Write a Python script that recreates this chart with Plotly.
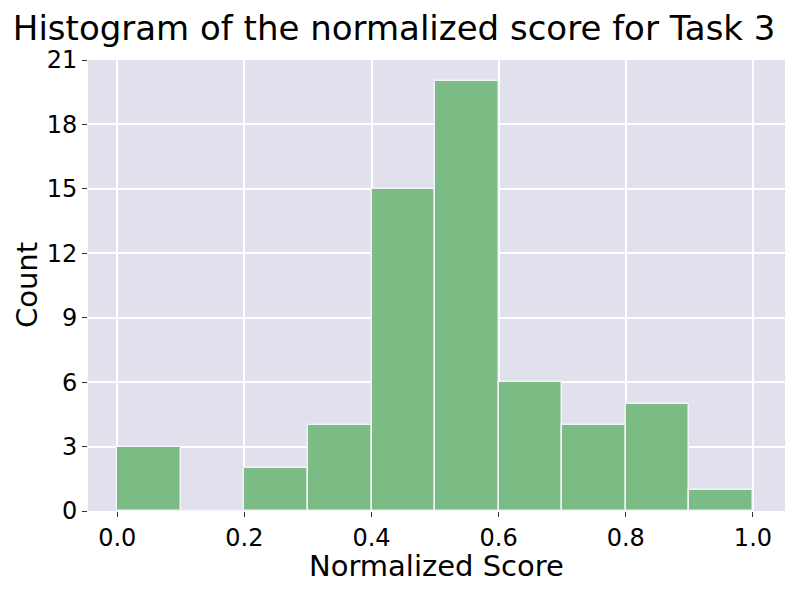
import plotly.graph_objects as go

bin_left = [0.0, 0.1, 0.2, 0.3, 0.4, 0.5, 0.6, 0.7, 0.8, 0.9]
counts = [3, 0, 2, 4, 15, 20, 6, 4, 5, 1]
bin_width = 0.1
x_ticks = [0.0, 0.2, 0.4, 0.6, 0.8, 1.0]
y_ticks = [0, 3, 6, 9, 12, 15, 18, 21]

centers = [b + bin_width / 2 for b in bin_left]

fig = go.Figure(go.Bar(
    x=centers, y=counts, width=[bin_width] * len(counts),
    marker=dict(color="#7BBC84", line=dict(color="#F2F2F8", width=1.5)),
))

fig.update_layout(
    width=793, height=594,
    margin=dict(l=80, r=15, t=52, b=91),
    paper_bgcolor="white",
    plot_bgcolor="#E1E1ED",
    font=dict(family="DejaVu Sans", color="black", size=24),
    title=dict(text="Histogram of the normalized score for Task 3", x=0.487, xanchor="center",
               y=0.967, yanchor="middle", font=dict(size=34)),
    showlegend=False,
    bargap=0,
    annotations=[
        dict(text="Normalized Score", xref="x domain", yref="y domain", x=0.499, y=-0.122,
             xanchor="center", yanchor="middle", showarrow=False, font=dict(size=29)),
        dict(text="Count", xref="x domain", yref="y domain", x=-0.088, y=0.5, textangle=-90,
             xanchor="center", yanchor="middle", showarrow=False, borderpad=0, font=dict(size=29)),
    ],
)
fig.update_xaxes(range=[-0.046, 1.052], tickvals=x_ticks, ticktext=[f"{v:.1f}" for v in x_ticks],
                 showgrid=True, gridcolor="white", gridwidth=1.5, zeroline=False, automargin=False,
                 ticks="outside", ticklen=5, tickcolor="#333", showline=False)
fig.update_yaxes(range=[0, 21], tickvals=y_ticks, showgrid=True, gridcolor="white", gridwidth=1.5,
                 zeroline=False, ticks="outside", ticklen=5, tickcolor="#333", showline=False,
                 automargin=False)

fig.write_html("out.html")
